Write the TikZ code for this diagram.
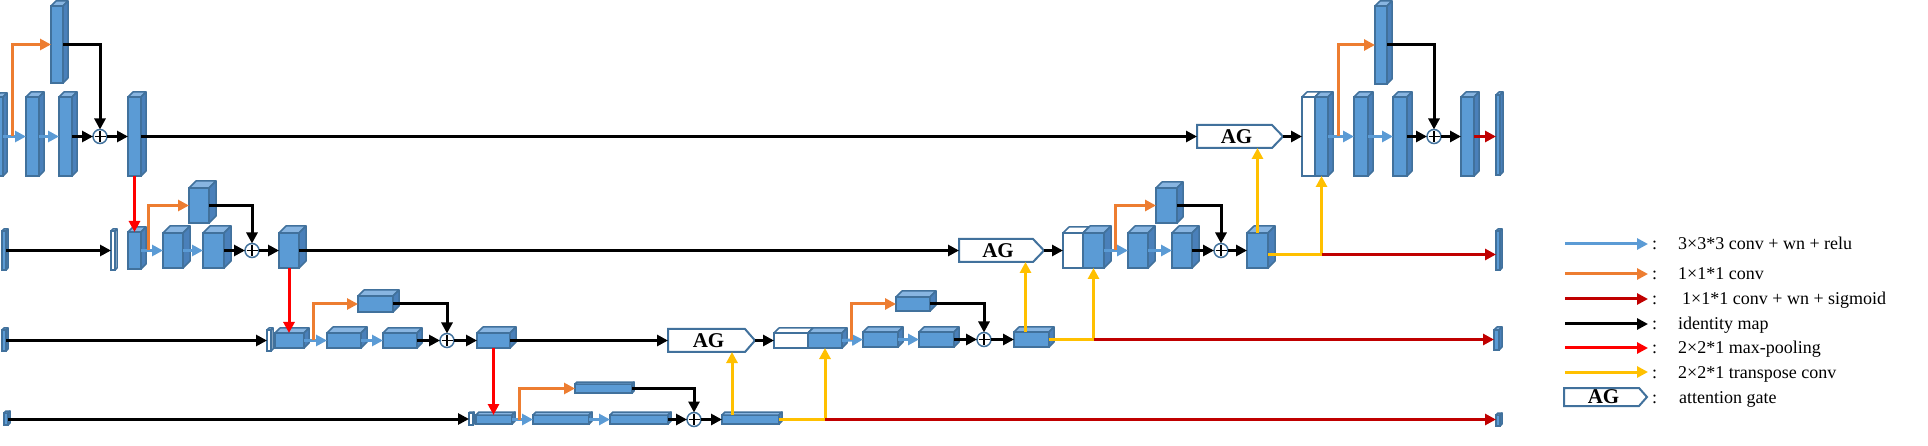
\documentclass[tikz,border=0pt]{standalone}
\usepackage{fontspec}
\setmainfont{Liberation Serif}
\usetikzlibrary{arrows.meta,calc}
\definecolor{cfront}{HTML}{5B9BD5}
\definecolor{ctop}{HTML}{88B5E1}
\definecolor{cside}{HTML}{4A80BA}
\definecolor{cedge}{HTML}{41719C}
\definecolor{cblue}{HTML}{5B9BD5}
\definecolor{corange}{HTML}{ED7D31}
\definecolor{cdred}{HTML}{C00000}
\definecolor{cred}{HTML}{FF0000}
\definecolor{cyel}{HTML}{FFC000}
% cuboid: [opts]{name}{x1}{y1}{x2}{y2}{depth}
\newcommand\cub[7][]{%
  \node[cubfront,#1,minimum width={(#5)-(#3)},minimum height={(#6)-(#4)}] (#2) at ({((#3)+(#5))/2},{((#4)+(#6))/2}) {};
  \draw[cubedge,fill=ctop,#1] (#2.north west) -- ++(#7,-#7) -- ([shift={(#7,-#7)}]#2.north east) -- (#2.north east) -- cycle;
  \draw[cubedge,fill=cside,#1] (#2.north east) -- ++(#7,-#7) -- ([shift={(#7,-#7)}]#2.south east) -- (#2.south east) -- cycle;
}
% plus junction: {name}{x}{y}
\newcommand\pls[3]{%
  \node[pluscirc] (#1) at (#2,#3) {};
  \draw[plusbar] ([yshift=-1.5pt]#1.north) -- ([yshift=1.5pt]#1.south) ([xshift=1.5pt]#1.west) -- ([xshift=-1.5pt]#1.east);
}
% attention gate: {name}{x1}{y1}{xcorner}{xtip}{y2}
\newcommand\agbox[6]{%
  \draw[draw=cedge,fill=white,line width=2pt,line join=miter] (#2,#3) -- (#4,#3) -- (#5,{((#3)+(#6))/2}) -- (#4,#6) -- (#2,#6) -- cycle;
  \node[inner sep=0pt,outer sep=0pt,minimum width={(#5)-(#2)},minimum height={(#6)-(#3)}] (#1) at ({((#2)+(#5))/2},{((#3)+(#6))/2}) {};
  \node[agtext] (#1-t) at ({((#2)+(#4))/2+2},{((#3)+(#6))/2}) {AG};
}
\begin{document}
\begin{tikzpicture}[x=1pt,y=-1pt,
  cubfront/.style={rectangle,draw=cedge,fill=cfront,line width=1.5pt,inner sep=0pt,outer sep=0pt},
  cubedge/.style={draw=cedge,line width=1.5pt,line join=round},
  pluscirc/.style={circle,draw=cedge,fill=white,line width=1.5pt,minimum size=14pt,inner sep=0pt,outer sep=0pt},
  plusbar/.style={draw=black,line width=1.6pt},
  agtext/.style={font=\fontsize{21}{24}\selectfont\bfseries,inner sep=0pt},
  lab/.style={font=\fontsize{18}{22}\selectfont,inner sep=0pt,anchor=base west},
  arrw/.style={line width=3pt,-{Triangle[length=11pt,width=11pt]}},
  blu/.style={arrw,draw=cblue},
  org/.style={arrw,draw=corange},
  drk/.style={arrw,draw=cdred},
  blk/.style={arrw,draw=black},
  rd/.style={arrw,draw=cred},
  ylw/.style={arrw,draw=cyel},
]
\useasboundingbox (0,0) rectangle (1928,446);
\fill[white] (0,0) rectangle (1928,446);

% ---------------- level 1 ----------------
\cub{in1}{-4}{97}{3}{176}{4}
\cub{b1}{26}{97}{39}{176}{5}
\cub{c1}{59}{97}{72}{176}{5}
\cub{d1}{128}{97}{141}{176}{5}
\cub{e1}{51}{6}{63}{83}{5}
\pls{p1}{100}{136.5}
\agbox{ag1}{1197}{125}{1272}{1283}{148}
\cub[fill=white]{w1}{1302}{97}{1315}{176}{5}
\cub{k1}{1315}{97}{1328}{176}{5}
\cub{c1r}{1354}{97}{1368}{176}{5}
\cub{f1r}{1393}{97}{1407}{176}{5}
\pls{p1r}{1434}{136.5}
\cub{d1r}{1461}{97}{1474}{176}{5}
\cub{e1r}{1375}{6}{1387}{84}{5}
\cub{out1}{1496}{95}{1500}{175}{3}

% ---------------- level 2 ----------------
\cub{in2}{2}{231}{6}{270}{2}
\cub[fill=white]{wb2}{111}{231}{115}{270}{2}
\cub{b2}{128}{232}{141}{269}{5}
\cub{c2}{163}{233}{183}{268}{7}
\cub{f2}{203}{233}{224}{268}{7}
\pls{p2}{252}{250.5}
\cub{d2}{279}{233}{299}{268}{7}
\cub{e2}{189}{188}{209}{223}{7}
\agbox{ag2}{959}{239}{1033}{1044}{262}
\cub[fill=white]{w2}{1063}{233}{1083}{268}{6}
\cub{k2}{1083}{233}{1104}{268}{7}
\cub{c2r}{1128}{233}{1148}{268}{7}
\cub{f2r}{1172}{233}{1192}{268}{7}
\pls{p2r}{1221}{250.5}
\cub{d2r}{1247}{233}{1268}{268}{7}
\cub{e2r}{1156}{188}{1177}{223}{6}
\cub{out2}{1496}{231}{1500}{270}{2}

% ---------------- level 3 ----------------
\cub{in3}{2}{330}{6}{351}{2}
\cub[fill=white]{wb3}{267}{330}{271}{351}{2}
\cub{b3}{275}{333}{304}{348}{5}
\cub{c3}{327}{333}{361}{348}{6}
\cub{f3}{383}{333}{417}{348}{5}
\pls{p3}{447}{340.5}
\cub{d3}{477}{333}{510}{348}{6}
\cub{e3}{358}{296}{393}{312}{6}
\agbox{ag3}{668}{329}{745}{755}{352}
\cub[fill=white]{w3}{774}{333}{808}{348}{5}
\cub{k3}{808}{333}{842}{348}{5}
\cub{c3r}{863}{332}{898}{347}{5}
\cub{f3r}{919}{332}{954}{347}{5}
\pls{p3r}{984}{339.5}
\cub{d3r}{1014}{332}{1049}{347}{5}
\cub{e3r}{896}{297}{930}{311}{6}
\cub{out3}{1494}{330}{1499}{350}{3}

% ---------------- level 4 ----------------
\cub{in4}{4}{413}{8}{425}{2}
\cub[fill=white]{wb4}{469}{413}{473}{425}{1}
\cub{b4}{476}{415}{512}{424}{3}
\cub{c4}{533}{415}{589}{424}{3}
\cub{f4}{610}{415}{668}{424}{3}
\pls{p4}{694}{419.5}
\cub{d4}{722}{415}{779}{424}{3}
\cub{e4}{575}{384}{632}{393}{2}
\cub{out4}{1496}{415}{1500}{426}{2}

% ---------------- connectors level 1 ----------------
\coordinate (o1) at ([xshift=9pt]in1.east);
\draw[blu] (in1.east) -- (b1.west);
\draw[org] (o1) |- (e1.west);
\draw[blu] (b1.east) -- (c1.west);
\draw[blk] (c1.east) -- (p1.west);
\draw[blk] (e1.east) -| (p1.north);
\draw[blk] (p1.east) -- (d1.west);
\draw[blk] (d1.east) -- (d1.east -| ag1.west);
\draw[rd] (d1.south) -- (d1.south |- b2.north);
\draw[blk] (ag1.east) -- (ag1.east -| w1.west);
\draw[ylw] (d2r.north) -- (d2r.north |- ag1.south);
\coordinate (y2e) at ([yshift=-4pt]d2r.east);
\draw[ylw] (y2e) -| (k1.south);
\draw[drk] (y2e -| k1.south) -- (y2e -| out2.west);
\coordinate (o1r) at ([xshift=10pt]k1.east);
\draw[blu] (k1.east) -- (c1r.west);
\draw[org] (o1r) |- (e1r.west);
\draw[blu] (c1r.east) -- (f1r.west);
\draw[blk] (f1r.east) -- (p1r.west);
\draw[blk] (e1r.east) -| (p1r.north);
\draw[blk] (p1r.east) -- (d1r.west);
\draw[drk] (d1r.east) -- (d1r.east -| out1.west);

% ---------------- connectors level 2 ----------------
\draw[blk] (in2.east) -- (in2.east -| wb2.west);
\coordinate (o2) at ([xshift=7pt]b2.east);
\draw[blu] (b2.east) -- (c2.west);
\draw[org] (o2) |- (e2.west);
\draw[blu] (c2.east) -- (f2.west);
\draw[blk] (f2.east) -- (p2.west);
\draw[blk] (e2.east) -| (p2.north);
\draw[blk] (p2.east) -- (d2.west);
\draw[blk] (d2.east) -- (d2.east -| ag2.west);
\draw[rd] (d2.south) -- (d2.south |- b3.north);
\draw[blk] (ag2.east) -- (ag2.east -| w2.west);
\coordinate (y3n) at ([xshift=-6pt]d3r.north);
\draw[ylw] (y3n) -- (y3n |- ag2.south);
\draw[ylw] (d3r.east) -| (k2.south);
\draw[drk] (d3r.east -| k2.south) -- (d3r.east -| out3.west);
\coordinate (o2r) at ([xshift=11pt]k2.east);
\draw[blu] (k2.east) -- (c2r.west);
\draw[org] (o2r) |- (e2r.west);
\draw[blu] (c2r.east) -- (f2r.west);
\draw[blk] (f2r.east) -- (p2r.west);
\draw[blk] (e2r.east) -| (p2r.north);
\draw[blk] (p2r.east) -- (d2r.west);

% ---------------- connectors level 3 ----------------
\draw[blk] (in3.east) -- (in3.east -| wb3.west);
\coordinate (o3) at ([xshift=9pt]b3.east);
\draw[blu] (b3.east) -- (c3.west);
\draw[org] (o3) |- (e3.west);
\draw[blu] (c3.east) -- (f3.west);
\draw[blk] (f3.east) -- (p3.west);
\draw[blk] (e3.east) -| (p3.north);
\draw[blk] (p3.east) -- (d3.west);
\draw[blk] (d3.east) -- (d3.east -| ag3.west);
\draw[rd] (d3.south) -- (d3.south |- b4.north);
\draw[blk] (ag3.east) -- (ag3.east -| w3.west);
\coordinate (y4n) at ([xshift=10pt]d4.north west);
\draw[ylw] (y4n) -- (y4n |- ag3.south);
\draw[ylw] (d4.east) -| (k3.south);
\draw[drk] (d4.east -| k3.south) -- (d4.east -| out4.west);
\coordinate (o3r) at ([xshift=9pt]k3.east);
\draw[blu] (k3.east) -- (c3r.west);
\draw[org] (o3r) |- (e3r.west);
\draw[blu] (c3r.east) -- (f3r.west);
\draw[blk] (f3r.east) -- (p3r.west);
\draw[blk] (e3r.east) -| (p3r.north);
\draw[blk] (p3r.east) -- (d3r.west);

% ---------------- connectors level 4 ----------------
\draw[blk] (in4.east) -- (in4.east -| wb4.west);
\coordinate (o4) at ([xshift=7pt]b4.east);
\draw[blu] (b4.east) -- (c4.west);
\draw[org] (o4) |- (e4.west);
\draw[blu] (c4.east) -- (f4.west);
\draw[blk] (f4.east) -- (p4.west);
\draw[blk] (e4.east) -| (p4.north);
\draw[blk] (p4.east) -- (d4.west);

% ---------------- legend ----------------
\coordinate (l1a) at (1565,244); \coordinate (l1b) at (1648,244);
\draw[blu] (l1a) -- (l1b);
\node[lab] (l1c) at (1652,250) {:};
\node[lab] (l1t) at (1678,250) {3×3*3 conv + wn + relu};
\coordinate (l2a) at (1565,274); \coordinate (l2b) at (1648,274);
\draw[org] (l2a) -- (l2b);
\node[lab] (l2c) at (1652,280) {:};
\node[lab] (l2t) at (1678,280) {1×1*1 conv};
\coordinate (l3a) at (1565,299); \coordinate (l3b) at (1648,299);
\draw[drk] (l3a) -- (l3b);
\node[lab] (l3c) at (1652,305) {:};
\node[lab] (l3t) at (1682,305) {1×1*1 conv + wn + sigmoid};
\coordinate (l4a) at (1565,324); \coordinate (l4b) at (1648,324);
\draw[blk] (l4a) -- (l4b);
\node[lab] (l4c) at (1652,330) {:};
\node[lab] (l4t) at (1678,330) {identity map};
\coordinate (l5a) at (1565,348); \coordinate (l5b) at (1648,348);
\draw[rd] (l5a) -- (l5b);
\node[lab] (l5c) at (1652,354) {:};
\node[lab] (l5t) at (1678,354) {2×2*1 max-pooling};
\coordinate (l6a) at (1565,372); \coordinate (l6b) at (1648,372);
\draw[ylw] (l6a) -- (l6b);
\node[lab] (l6c) at (1652,378) {:};
\node[lab] (l6t) at (1678,378) {2×2*1 transpose conv};
\agbox{agl}{1564}{388}{1639}{1647}{406}
\node[lab] (l7c) at (1652,403) {:};
\node[lab] (l7t) at (1679,403) {attention gate};
\end{tikzpicture}
\end{document}
